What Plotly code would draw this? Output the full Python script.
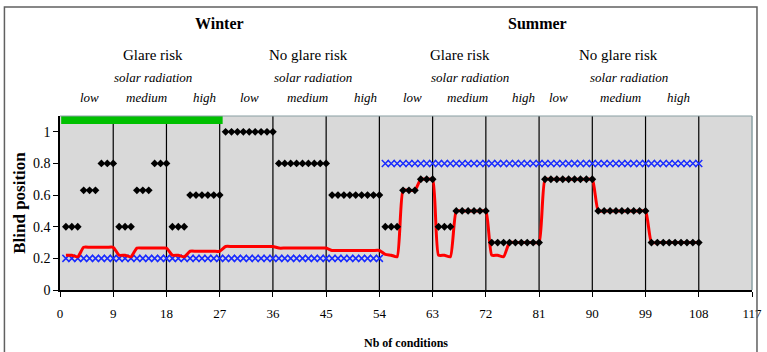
import plotly.graph_objects as go

# Condition index (1..108): winter 1-54, summer 55-108
conditions = list(range(1, 109))

# Blind position chosen for each condition (black diamonds)
chosen_position = (
    [0.4] * 3 + [0.63] * 3 + [0.8] * 3
    + [0.4] * 3 + [0.63] * 3 + [0.8] * 3
    + [0.4] * 3 + [0.6] * 6
    + [1.0] * 9 + [0.8] * 9 + [0.6] * 9
    + [0.4] * 3 + [0.63] * 3 + [0.7] * 3
    + [0.4] * 3 + [0.5] * 6
    + [0.3] * 9
    + [0.7] * 9 + [0.5] * 9 + [0.3] * 9
)

# Controller response (red smoothed line)
controller_position = (
    [0.22, 0.22, 0.21] + [0.27] * 6
    + [0.22, 0.22, 0.21] + [0.265] * 6
    + [0.22, 0.22, 0.21] + [0.245] * 6
    + [0.275] * 9 + [0.265] * 9 + [0.25] * 9
    + [0.225, 0.22, 0.21] + [0.63] * 3 + [0.7] * 3
    + [0.22, 0.22, 0.21] + [0.5] * 6
    + [0.22, 0.22, 0.21] + [0.3] * 6
    + [0.7] * 9 + [0.5] * 9 + [0.3] * 9
)

# Seasonal default position (blue crosses)
default_position = [0.2] * 54 + [0.8] * 54

# Glare-risk period marker along the top
glare_bar_x = [0.2, 27.5]
glare_bar_y = [1.075, 1.075]

# Group separators and axis ticks
separators = [9, 18, 27, 36, 45, 54, 63, 72, 81, 90, 99, 108]
x_ticks = [0, 9, 18, 27, 36, 45, 54, 63, 72, 81, 90, 99, 108, 117]
y_ticks = [0, 0.2, 0.4, 0.6, 0.8, 1]
y_tick_labels = ["0", "0.2", "0.4", "0.6", "0.8", "1"]

SERIF = "Liberation Serif"

fig = go.Figure()

fig.add_trace(go.Scatter(
    x=glare_bar_x, y=glare_bar_y, mode="lines",
    line=dict(color="#00c000", width=8), showlegend=False, cliponaxis=False,
))

fig.add_trace(go.Scatter(
    x=conditions, y=default_position, mode="markers",
    marker=dict(symbol="x-thin", size=7, line=dict(color="#1a2cff", width=1.5)),
    showlegend=False,
))

fig.add_trace(go.Scatter(
    x=conditions, y=controller_position, mode="lines",
    line=dict(color="#ff0000", width=3, shape="spline", smoothing=0.5),
    showlegend=False,
))

fig.add_trace(go.Scatter(
    x=conditions, y=chosen_position, mode="markers",
    marker=dict(symbol="diamond", size=6, color="#000000"),
    showlegend=False,
))

shapes = []
for s in separators:
    shapes.append(dict(type="line", xref="x", yref="paper", x0=s, x1=s, y0=0, y1=1,
                       line=dict(color="#000000", width=1.2), layer="below"))
# outer frame of the chart
shapes.append(dict(type="rect", xref="paper", yref="paper",
                   x0=-0.0803, x1=1.0072, y0=-0.45, y1=1.626,
                   line=dict(color="#606060", width=1.5)))
# plot-area top and right edges
shapes.append(dict(type="line", xref="paper", yref="paper", x0=0, x1=1, y0=1, y1=1,
                   line=dict(color="#8aa0a4", width=1.2)))
shapes.append(dict(type="line", xref="paper", yref="paper", x0=1, x1=1, y0=0, y1=1,
                   line=dict(color="#8aa0a4", width=1.5)))

annotations = []


def label(text, x, y, size, bold=False, italic=False):
    t = text
    if bold:
        t = "<b>" + t + "</b>"
    if italic:
        t = "<i>" + t + "</i>"
    annotations.append(dict(text=t, x=x, y=y, xref="x", yref="paper",
                            showarrow=False, xanchor="center", yanchor="middle",
                            font=dict(family=SERIF, size=size, color="#000000")))


label("Winter", 27, 1.53, 16, bold=True)
label("Summer", 80.8, 1.53, 16, bold=True)
for gx in (15.7, 67.7):
    label("Glare risk", gx, 1.35, 15)
for gx in (42, 94.5):
    label("No glare risk", gx, 1.35, 15)
for sx in (15.7, 42.8, 69.4, 96.2):
    label("solar radiation", sx, 1.22, 13, italic=True)
for lx, mx, hx in ((5.0, 14.7, 24.5), (32.1, 41.9, 51.6),
                   (59.6, 68.9, 78.4), (84.3, 94.8, 104.5)):
    label("low", lx, 1.105, 13, italic=True)
    label("medium", mx, 1.105, 13, italic=True)
    label("high", hx, 1.105, 13, italic=True)

fig.update_layout(
    width=767, height=352,
    margin=dict(l=60, r=15, t=116, b=62),
    paper_bgcolor="#ffffff", plot_bgcolor="#d9d9d9",
    shapes=shapes, annotations=annotations,
    font=dict(family=SERIF, color="#000000", size=13),
    xaxis=dict(
        range=[0, 117], tickvals=x_ticks, ticktext=[str(v) for v in x_ticks],
        showgrid=False, zeroline=False, showline=True, linecolor="#000000", linewidth=1.5,
        ticks="outside", ticklen=5, tickcolor="#000000", tickwidth=1,
        ticklabelstandoff=6, automargin=False,
        tickfont=dict(family=SERIF, size=13),
        title=dict(text="<b>Nb of conditions</b>", font=dict(family=SERIF, size=12), standoff=18),
    ),
    yaxis=dict(
        range=[0, 1.1], tickvals=y_ticks, ticktext=y_tick_labels,
        showgrid=False, zeroline=False, showline=True, linecolor="#000000", linewidth=1.5,
        ticks="outside", ticklen=5, tickcolor="#000000", tickwidth=1,
        automargin=False,
        tickfont=dict(family=SERIF, size=14),
        title=dict(text="<b>Blind position</b>", font=dict(family=SERIF, size=17), standoff=3),
    ),
)

fig.write_html("out.html")
